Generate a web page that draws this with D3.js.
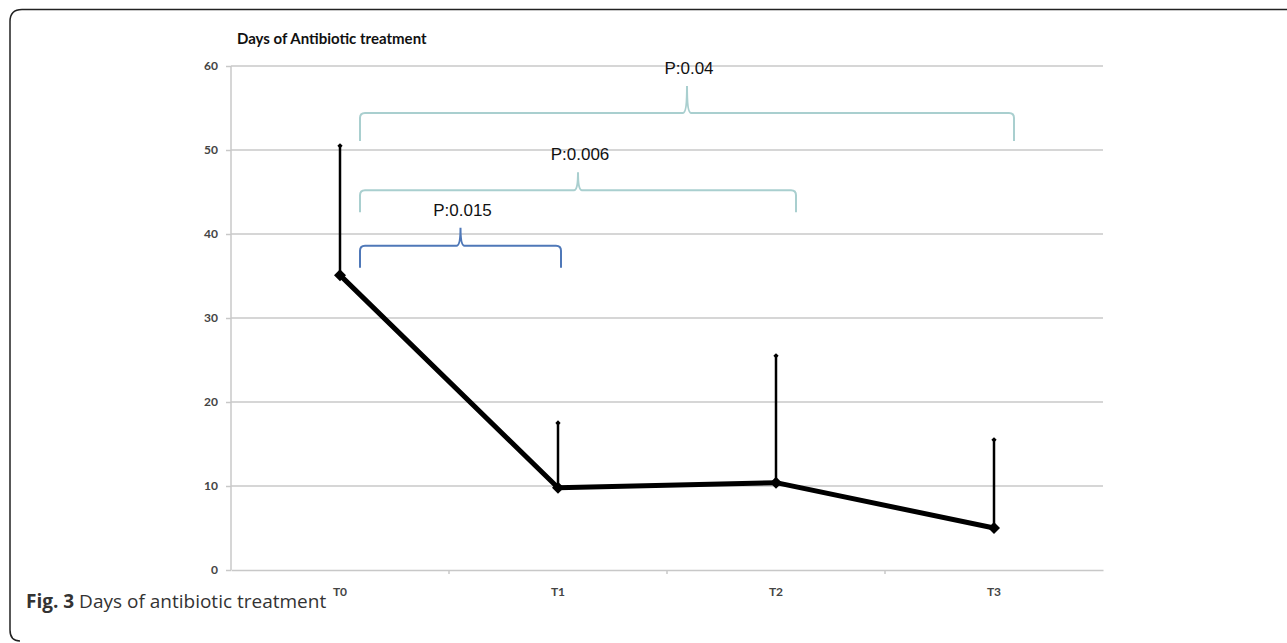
<!DOCTYPE html>
<html>
<head>
<meta charset="utf-8">
<script src="https://cdn.jsdelivr.net/npm/d3@7"></script>
<style>
  body { margin: 0; background: #fff; }
  svg { display: block; }
</style>
</head>
<body>
<script>
  // chart values
  var categories = ["T0", "T1", "T2", "T3"];
  var means = [35.1, 9.8, 10.4, 5.0];
  var upperErr = [50.5, 17.5, 25.5, 15.5];
  var yTicks = [0, 10, 20, 30, 40, 50, 60];

  // significance brackets: from / to category, level (days), label
  var bracketFrom = ["T0", "T0", "T0"];
  var bracketTo = ["T1", "T2", "T3"];
  var bracketLevel = [38.6, 45.2, 54.4];
  var bracketLabel = ["P:0.015", "P:0.006", "P:0.04"];
  var bracketColor = ["#4f78b8", "#a9cfcf", "#a9cfcf"];

  var W = 1287, H = 643;
  var margin = {top: 66, right: 184, bottom: 73, left: 231},
      width = W - margin.left - margin.right,
      height = H - margin.top - margin.bottom;

  var svg = d3.select("body").append("svg")
    .attr("width", W)
    .attr("height", H);

  // figure frame (top + left edges, rounded corners)
  svg.append("path")
    .attr("d", "M1287,9.5 L22,9.5 Q10,9.5 10,21.5 L10,630 Q10,641 20,641")
    .attr("fill", "none")
    .attr("stroke", "#222")
    .attr("stroke-width", 1.5);

  var g = svg.append("g")
    .attr("transform", "translate(" + margin.left + "," + margin.top + ")");

  var x = d3.scaleBand()
    .domain(categories)
    .range([0, width]);

  var y = d3.scaleLinear()
    .domain([0, 60])
    .range([height, 0]);

  function cx(c) { return x(c) + x.bandwidth() / 2; }

  // gridlines
  g.selectAll(".grid")
    .data(yTicks.filter(function(d) { return d > 0; }))
    .enter().append("line")
    .attr("x1", 0).attr("x2", width)
    .attr("y1", y).attr("y2", y)
    .attr("stroke", "#c8c8c8")
    .attr("stroke-width", 1.5);

  // y axis
  var yAxis = g.append("g")
    .call(d3.axisLeft(y).tickValues(yTicks).tickSize(5).tickPadding(8));
  yAxis.select(".domain").attr("stroke", "#c8c8c8").attr("stroke-width", 1.5)
    .attr("d", "M0," + height + "V0");
  yAxis.selectAll(".tick line").attr("stroke", "#c8c8c8").attr("stroke-width", 1.5);
  yAxis.selectAll("text")
    .attr("fill", "#444")
    .style("font-family", "Lato, sans-serif")
    .style("font-size", "12px")
    .style("font-weight", "700");

  // x axis
  var xAxis = g.append("g")
    .attr("transform", "translate(0," + height + ")")
    .call(d3.axisBottom(x).tickSize(0).tickPadding(17));
  xAxis.select(".domain").attr("stroke", "#c8c8c8").attr("stroke-width", 1.5);
  xAxis.selectAll("text")
    .attr("fill", "#444")
    .style("font-family", "Lato, sans-serif")
    .style("font-size", "12px")
    .style("font-weight", "700");
  // category boundary ticks
  xAxis.selectAll(".sep")
    .data(categories.slice(1))
    .enter().append("line")
    .attr("x1", function(d) { return x(d); })
    .attr("x2", function(d) { return x(d); })
    .attr("y1", 0).attr("y2", 4)
    .attr("stroke", "#c8c8c8")
    .attr("stroke-width", 1.5);

  var square = d3.symbol().type(d3.symbolSquare);

  // error bars (upper only)
  categories.forEach(function(c, i) {
    g.append("line")
      .attr("x1", cx(c)).attr("x2", cx(c))
      .attr("y1", y(means[i])).attr("y2", y(upperErr[i]))
      .attr("stroke", "#000")
      .attr("stroke-width", 2.5);
    g.append("path")
      .attr("d", square.size(14)())
      .attr("transform", "translate(" + cx(c) + "," + y(upperErr[i]) + ") rotate(45)")
      .attr("fill", "#000");
  });

  // mean line
  var line = d3.line()
    .x(function(d, i) { return cx(categories[i]); })
    .y(function(d) { return y(d); });

  g.append("path")
    .datum(means)
    .attr("d", line)
    .attr("fill", "none")
    .attr("stroke", "#000")
    .attr("stroke-width", 5)
    .attr("stroke-linejoin", "round");

  g.selectAll(".marker")
    .data(means)
    .enter().append("path")
    .attr("d", square.size(72)())
    .attr("transform", function(d, i) { return "translate(" + cx(categories[i]) + "," + y(d) + ") rotate(45)"; })
    .attr("fill", "#000");

  // significance brackets
  bracketLabel.forEach(function(lab, i) {
    var x0 = cx(bracketFrom[i]) + 20,
        x1 = cx(bracketTo[i]) + (i === 0 ? 3 : 20),
        yy = y(bracketLevel[i]),
        drop = i === 2 ? 28 : 22,
        tip = i === 2 ? 27 : 18,
        xm = (x0 + x1) / 2, r = 5;
    var d = "M" + x0 + "," + (yy + drop) +
      " L" + x0 + "," + (yy + r) + " Q" + x0 + "," + yy + " " + (x0 + r) + "," + yy +
      " L" + (xm - 4) + "," + yy + " Q" + xm + "," + yy + " " + xm + "," + (yy - tip) +
      " Q" + xm + "," + yy + " " + (xm + 4) + "," + yy +
      " L" + (x1 - r) + "," + yy + " Q" + x1 + "," + yy + " " + x1 + "," + (yy + r) +
      " L" + x1 + "," + (yy + drop);
    g.append("path")
      .attr("d", d)
      .attr("fill", "none")
      .attr("stroke", bracketColor[i])
      .attr("stroke-width", 2);
    g.append("text")
      .attr("x", xm + 2)
      .attr("y", yy - tip - 12)
      .attr("text-anchor", "middle")
      .attr("fill", "#111")
      .style("font-family", "'Liberation Sans', Arial, sans-serif")
      .style("font-size", "17px")
      .text(lab);
  });

  // chart title
  svg.append("text")
    .attr("x", 237)
    .attr("y", 44)
    .attr("fill", "#111")
    .style("font-family", "Lato, sans-serif")
    .style("font-size", "15px")
    .style("font-weight", "700")
    .text("Days of Antibiotic treatment");

  // figure caption
  var cap = svg.append("text")
    .attr("x", 26)
    .attr("y", 608)
    .attr("fill", "#333")
    .style("font-family", "'Open Sans', sans-serif")
    .style("font-size", "19px");
  cap.append("tspan").style("font-weight", "700").text("Fig. 3");
  cap.append("tspan").text(" Days of antibiotic treatment");
</script>
</body>
</html>
